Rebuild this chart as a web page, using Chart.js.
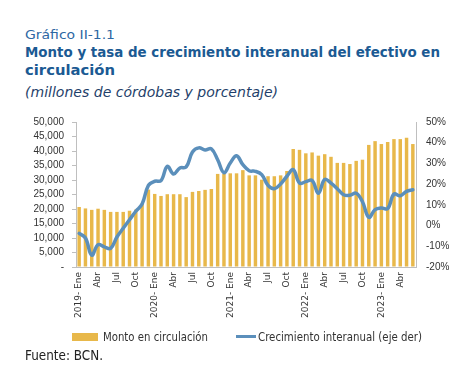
<!DOCTYPE html>
<html>
<head>
<meta charset="utf-8">
<script src="https://cdn.jsdelivr.net/npm/chart.js@4.4.1/dist/chart.umd.min.js"></script>
<style>
  html, body { margin:0; padding:0; background:#fff; }
  #wrap { position:relative; width:469px; height:374px; overflow:hidden; font-family:'DejaVu Sans', sans-serif; }
  .txt { position:absolute; white-space:nowrap; transform-origin:0 0; line-height:1; }
  #cv { position:absolute; left:0; top:0; }
</style>
</head>
<body>
<div id="wrap">
  <div class="txt" id="t0" data-w="90" style="left:25px; top:29px; font-size:12px; color:#2d67a3;">Gráfico II-1.1</div>
  <div class="txt" id="t1" data-w="415" style="left:25px; top:45px; font-size:14px; font-weight:bold; color:#1b5a93;">Monto y tasa de crecimiento interanual del efectivo en</div>
  <div class="txt" id="t2" data-w="90" style="left:25px; top:63px; font-size:14px; font-weight:bold; color:#1b5a93;">circulación</div>
  <div class="txt" id="t3" data-w="253" style="left:25px; top:85px; font-size:14px; font-style:italic; color:#1f3f6a;">(millones de córdobas y porcentaje)</div>
  <div id="cvbox" style="position:absolute; left:0; top:0; width:469px; height:374px;"><canvas id="cv" width="469" height="374" style="width:469px;height:374px;"></canvas></div>
  <div style="position:absolute; left:72px; top:333px; width:26px; height:8px; background:#e8b84a;"></div>
  <div class="txt" id="l1" data-w="105" style="left:103px; top:331px; font-size:12px; color:#333;">Monto en circulación</div>
  <div style="position:absolute; left:236px; top:335px; width:20px; height:3px; background:#5b8fbb;"></div>
  <div class="txt" id="l2" data-w="164" style="left:258px; top:331px; font-size:12px; color:#333;">Crecimiento interanual (eje der)</div>
  <div class="txt" id="t4" data-w="78" style="left:25px; top:348px; font-size:14px; color:#222;">Fuente: BCN.</div>
</div>
<script>
// ---- data ----
const years = ['2019', '2020', '2021', '2022', '2023'];
const monthNames = ['Ene','Feb','Mar','Abr','May','Jun','Jul','Ago','Sep','Oct','Nov','Dic'];
const categories = [];
for (const y of years) for (const m of monthNames) if (categories.length < 54) categories.push(y + '-' + m);

// Monto en circulación (millones de córdobas)
const monto = [
  20700, 20200, 19700, 20100, 19700, 19000, 19000, 19000, 19400, 19800, 21900, 26700,
  25200, 24500, 25100, 25100, 25100, 24100, 25900, 26200, 26600, 26900, 32100, 32100,
  32300, 32300, 33400, 31600, 31600, 30100, 31300, 31300, 31600, 33100, 40700, 40400,
  39200, 39500, 38400, 38900, 38000, 35900, 35900, 35500, 36600, 37000, 42100, 43400,
  42400, 43100, 44100, 44100, 44600, 42400
];
// Crecimiento interanual (%)
const crecimiento = [
  -3.8, -6.0, -14.3, -9.2, -10.3, -11.0, -5.5, -1.3, 2.8, 6.9, 10.4, 19.4,
  21.4, 21.7, 28.6, 24.9, 27.8, 28.3, 35.5, 37.5, 36.5, 37.0, 31.8, 25.5,
  30.2, 33.7, 29.4, 26.5, 26.2, 24.6, 19.4, 17.8, 20.1, 23.8, 27.0, 20.5,
  21.2, 21.8, 15.6, 22.3, 20.5, 17.8, 14.9, 14.6, 15.6, 11.5, 4.0, 7.7,
  8.5, 8.2, 15.2, 14.4, 16.5, 17.3
];
const leftTicks = { min: 0, max: 50000, step: 5000 };
const rightTicks = { min: -20, max: 50, step: 10 };

// ---- fit text widths ----
document.querySelectorAll('.txt').forEach(el => {
  const w = el.getBoundingClientRect().width;
  const t = parseFloat(el.dataset.w);
  if (w > 0 && t) el.style.transform = 'scaleX(' + (t / w) + ')';
});

const tickFont = { family: "'Liberation Sans', Arial, sans-serif", size: 10 };
const xFont = { family: "'DejaVu Sans', sans-serif", size: 9 };

new Chart(document.getElementById('cv'), {
  data: {
    labels: categories,
    datasets: [
      {
        type: 'line', label: 'Crecimiento interanual (eje der)', data: crecimiento,
        yAxisID: 'y1', borderColor: '#5b8fbb', borderWidth: 3.5, pointRadius: 0,
        tension: 0.4, fill: false, order: 0, borderCapStyle: 'round'
      },
      {
        type: 'bar', label: 'Monto en circulación', data: monto,
        yAxisID: 'y', backgroundColor: '#e8b84a', barPercentage: 0.55, categoryPercentage: 1.0, order: 1
      }
    ]
  },
  options: {
    responsive: false, animation: false, maintainAspectRatio: false,
    devicePixelRatio: 1,
    layout: { padding: { left: 26, right: 13, top: 122, bottom: 0 } },
    plugins: { legend: { display: false }, tooltip: { enabled: false } },
    scales: {
      x: {
        offset: true,
        grid: { display: false, drawTicks: false },
        border: { display: true, color: '#bfbfbf' },
        ticks: {
          autoSkip: false, maxRotation: 90, minRotation: 90, padding: 5,
          color: '#333', font: xFont,
          callback: function(v, i) {
            const c = categories[i];
            const parts = c.split('-');
            if (parts[1] === 'Ene') return parts[0] + '- Ene';
            if (parts[1] === 'Abr' || parts[1] === 'Jul' || parts[1] === 'Oct') return parts[1];
            return '';
          }
        },
        afterFit: s => { s.height = 107; }
      },
      y: {
        position: 'left', min: leftTicks.min, max: leftTicks.max,
        grid: { drawOnChartArea: false, drawTicks: true, tickLength: 4, color: '#bfbfbf' },
        border: { display: true, color: '#bfbfbf' },
        ticks: {
          stepSize: leftTicks.step, autoSkip: false, padding: 8, color: '#333', font: tickFont,
          callback: v => v === 0 ? '-' : v.toLocaleString('en-US')
        },
        afterFit: s => { s.width = 50; }
      },
      y1: {
        position: 'right', min: rightTicks.min, max: rightTicks.max,
        grid: { drawOnChartArea: false, drawTicks: false },
        border: { display: true, color: '#bfbfbf' },
        ticks: { stepSize: rightTicks.step, autoSkip: false, padding: 10, color: '#333', font: tickFont, callback: v => v + '%' },
        afterFit: s => { s.width = 40; }
      }
    }
  }
});
</script>
</body>
</html>
